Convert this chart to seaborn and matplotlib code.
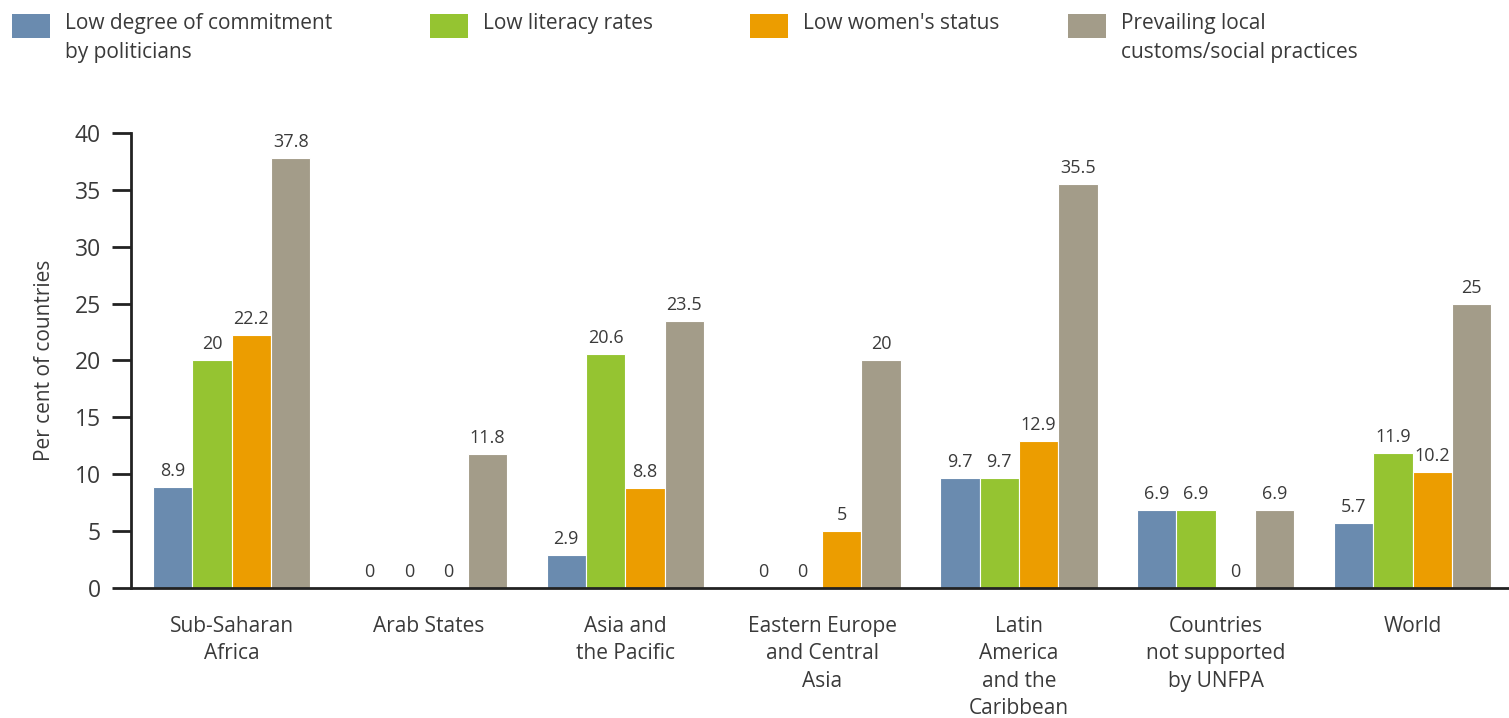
import matplotlib
matplotlib.use("Agg")
import matplotlib.pyplot as plt
from matplotlib.patches import Rectangle
import pandas as pd
import seaborn as sns

regions = [
    "Sub-Saharan\nAfrica",
    "Arab States",
    "Asia and\nthe Pacific",
    "Eastern Europe\nand Central\nAsia",
    "Latin\nAmerica\nand the\nCaribbean",
    "Countries\nnot supported\nby UNFPA",
    "World",
]
factors = [
    "Low degree of commitment\nby politicians",
    "Low literacy rates",
    "Low women's status",
    "Prevailing local\ncustoms/social practices",
]
commitment = [8.9, 0, 2.9, 0, 9.7, 6.9, 5.7]
literacy = [20, 0, 20.6, 0, 9.7, 6.9, 11.9]
womens_status = [22.2, 0, 8.8, 5, 12.9, 0, 10.2]
customs = [37.8, 11.8, 23.5, 20, 35.5, 6.9, 25]
colors = ["#6A8BAF", "#95C431", "#EC9D00", "#A39C89"]

rows = []
for factor, vals in zip(factors, [commitment, literacy, womens_status, customs]):
    for region, v in zip(regions, vals):
        rows.append({"region": region, "factor": factor, "value": v})
df = pd.DataFrame(rows)

sns.set_style("white")
plt.rcParams["font.family"] = ["Open Sans", "DejaVu Sans"]
txt = "#3a3a3a"

W, H = 1509, 718
fig = plt.figure(figsize=(W / 100, H / 100), dpi=100)
ax = fig.add_axes([0.087, 0.181, 0.913, 0.634])

sns.barplot(data=df, x="region", y="value", hue="factor", order=regions,
            hue_order=factors, palette=colors, width=0.8, saturation=1,
            edgecolor="white", linewidth=0.8, ax=ax, legend=False)

for cont in ax.containers:
    labels = [f"{v:g}" for v in cont.datavalues]
    ax.bar_label(cont, labels=labels, padding=5, fontsize=13, color=txt)

ax.set_ylim(0, 40)
ax.set_xlim(-0.51, 6.49)
ax.set_yticks(range(0, 41, 5))
ax.set_xlabel("")
ax.set_ylabel("Per cent of countries", fontsize=15, labelpad=14, color=txt)
ax.tick_params(axis="y", direction="out", length=14, width=2, labelsize=16.5,
               pad=8, left=True, color="#222222", labelcolor=txt)
ax.tick_params(axis="x", length=0, labelsize=15, pad=20, labelcolor=txt)
for lab in ax.get_xticklabels():
    lab.set_linespacing(1.4)
for side in ["top", "right"]:
    ax.spines[side].set_visible(False)
for side in ["left", "bottom"]:
    ax.spines[side].set_linewidth(2)
    ax.spines[side].set_color("#222222")

# legend across the top, swatch aligned with first text line
leg_x = [12, 430, 750, 1068]
for x0, lab, col in zip(leg_x, factors, colors):
    fig.patches.append(Rectangle((x0 / W, 1 - 38 / H), 38 / W, 24 / H,
                                 transform=fig.transFigure, facecolor=col,
                                 edgecolor="none"))
    fig.text((x0 + 53) / W, 1 - 13 / H, lab, ha="left", va="top",
             fontsize=15, color=txt, linespacing=1.5)

fig.savefig("out.png", dpi=100)
